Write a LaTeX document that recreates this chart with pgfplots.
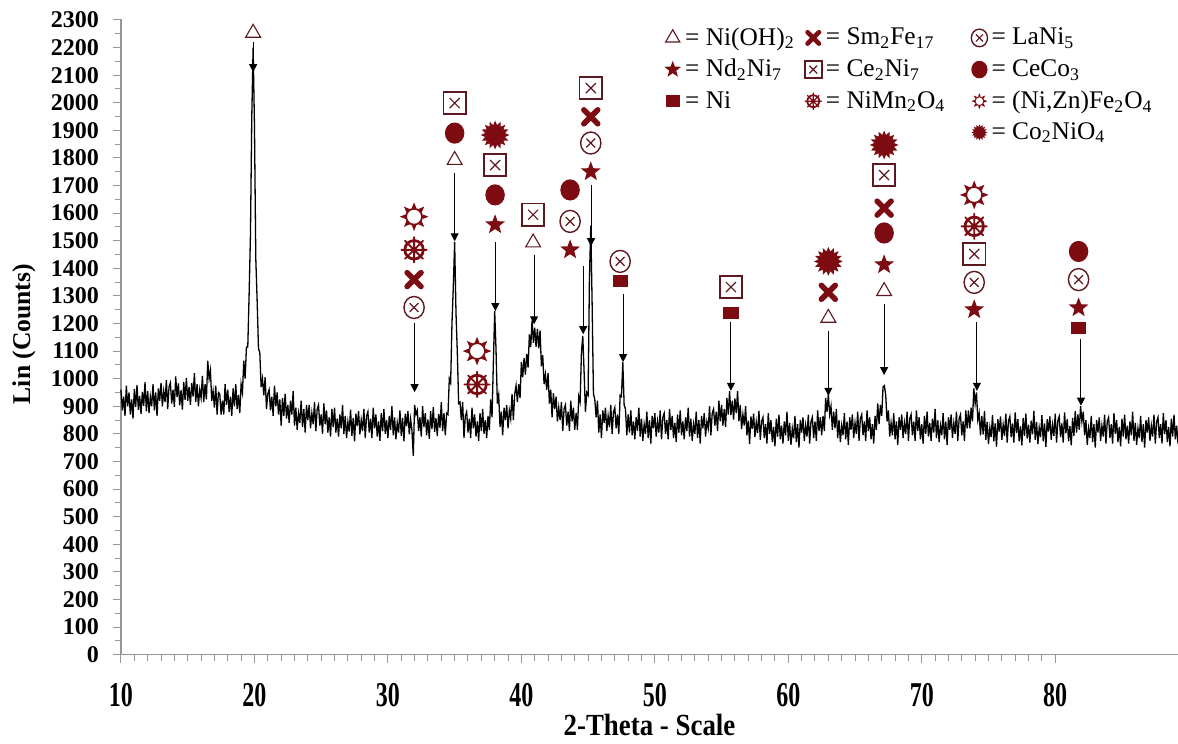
\documentclass[border=0pt]{standalone}
\usepackage{fontspec}
\setmainfont{Liberation Serif}
\usepackage{graphicx}
\usepackage{pgfplots}
\pgfplotsset{compat=1.18}
\usetikzlibrary{arrows.meta}
\definecolor{mred}{RGB}{125,12,18}
\definecolor{mbrown}{RGB}{95,25,30}
\definecolor{axgray}{RGB}{150,150,150}

% ---- custom plot marks ----
\pgfdeclareplotmark{fstar}{%
 \pgfpathmoveto{\pgfpointpolar{90}{\pgfplotmarksize}}%
 \pgfpathlineto{\pgfpointpolar{126}{0.42\pgfplotmarksize}}%
 \pgfpathlineto{\pgfpointpolar{162}{\pgfplotmarksize}}%
 \pgfpathlineto{\pgfpointpolar{198}{0.42\pgfplotmarksize}}%
 \pgfpathlineto{\pgfpointpolar{234}{\pgfplotmarksize}}%
 \pgfpathlineto{\pgfpointpolar{270}{0.42\pgfplotmarksize}}%
 \pgfpathlineto{\pgfpointpolar{306}{\pgfplotmarksize}}%
 \pgfpathlineto{\pgfpointpolar{342}{0.42\pgfplotmarksize}}%
 \pgfpathlineto{\pgfpointpolar{18}{\pgfplotmarksize}}%
 \pgfpathlineto{\pgfpointpolar{54}{0.42\pgfplotmarksize}}%
 \pgfpathclose\pgfusepathqfill}
\pgfdeclareplotmark{frect}{%
 \pgfpathrectangle{\pgfpoint{-\pgfplotmarksize}{-0.8\pgfplotmarksize}}{\pgfpoint{2\pgfplotmarksize}{1.6\pgfplotmarksize}}%
 \pgfusepathqfill}
\pgfdeclareplotmark{fell}{%
 \pgfpathellipse{\pgfpointorigin}{\pgfpoint{0.92\pgfplotmarksize}{0pt}}{\pgfpoint{0pt}{\pgfplotmarksize}}%
 \pgfusepathqfill}
\pgfdeclareplotmark{boldx}{%
 \pgfscope
 \pgfsetlinewidth{0.5\pgfplotmarksize}\pgfsetroundcap
 \pgfpathmoveto{\pgfpoint{-0.62\pgfplotmarksize}{-0.62\pgfplotmarksize}}%
 \pgfpathlineto{\pgfpoint{0.62\pgfplotmarksize}{0.62\pgfplotmarksize}}%
 \pgfpathmoveto{\pgfpoint{-0.62\pgfplotmarksize}{0.62\pgfplotmarksize}}%
 \pgfpathlineto{\pgfpoint{0.62\pgfplotmarksize}{-0.62\pgfplotmarksize}}%
 \pgfusepathqstroke
 \endpgfscope}
\pgfdeclareplotmark{boxx}{%
 \pgfscope
 \pgfsetlinewidth{0.9pt}%
 \pgfpathrectangle{\pgfpoint{-\pgfplotmarksize}{-\pgfplotmarksize}}{\pgfpoint{2\pgfplotmarksize}{2\pgfplotmarksize}}%
 \pgfusepathqfillstroke
 \pgfsetlinewidth{0.6pt}%
 \pgfpathmoveto{\pgfpoint{-0.45\pgfplotmarksize}{-0.45\pgfplotmarksize}}%
 \pgfpathlineto{\pgfpoint{0.45\pgfplotmarksize}{0.45\pgfplotmarksize}}%
 \pgfpathmoveto{\pgfpoint{-0.45\pgfplotmarksize}{0.45\pgfplotmarksize}}%
 \pgfpathlineto{\pgfpoint{0.45\pgfplotmarksize}{-0.45\pgfplotmarksize}}%
 \pgfusepathqstroke
 \endpgfscope}
\pgfdeclareplotmark{circx}{%
 \pgfscope
 \pgfsetlinewidth{0.7pt}%
 \pgfpathellipse{\pgfpointorigin}{\pgfpoint{0.92\pgfplotmarksize}{0pt}}{\pgfpoint{0pt}{\pgfplotmarksize}}%
 \pgfusepathqfillstroke
 \pgfsetlinewidth{0.6pt}%
 \pgfpathmoveto{\pgfpoint{-0.4\pgfplotmarksize}{-0.4\pgfplotmarksize}}%
 \pgfpathlineto{\pgfpoint{0.4\pgfplotmarksize}{0.4\pgfplotmarksize}}%
 \pgfpathmoveto{\pgfpoint{-0.4\pgfplotmarksize}{0.4\pgfplotmarksize}}%
 \pgfpathlineto{\pgfpoint{0.4\pgfplotmarksize}{-0.4\pgfplotmarksize}}%
 \pgfusepathqstroke
 \endpgfscope}
\pgfdeclareplotmark{wheel}{%
 \pgfscope
 \pgfsetlinewidth{0.2\pgfplotmarksize}%
 \pgfpathcircle{\pgfpointorigin}{0.68\pgfplotmarksize}%
 \pgfusepathqstroke
 \pgfpathcircle{\pgfpointorigin}{0.22\pgfplotmarksize}%
 \pgfusepathqfill
 \pgfsetlinewidth{0.14\pgfplotmarksize}\pgfsetroundcap
 \pgfpathmoveto{\pgfpointpolar{0}{0.93\pgfplotmarksize}}\pgfpathlineto{\pgfpointpolar{180}{0.93\pgfplotmarksize}}%
 \pgfpathmoveto{\pgfpointpolar{45}{0.93\pgfplotmarksize}}\pgfpathlineto{\pgfpointpolar{225}{0.93\pgfplotmarksize}}%
 \pgfpathmoveto{\pgfpointpolar{90}{0.93\pgfplotmarksize}}\pgfpathlineto{\pgfpointpolar{270}{0.93\pgfplotmarksize}}%
 \pgfpathmoveto{\pgfpointpolar{135}{0.93\pgfplotmarksize}}\pgfpathlineto{\pgfpointpolar{315}{0.93\pgfplotmarksize}}%
 \pgfusepathqstroke
 \endpgfscope}
\def\sray#1#2#3{\pgfpathmoveto{\pgfpointpolar{#1}{\pgfplotmarksize}}%
 \pgfpathlineto{\pgfpointpolar{#2}{0.6\pgfplotmarksize}}%
 \pgfpathlineto{\pgfpointpolar{#3}{0.6\pgfplotmarksize}}\pgfpathclose}
\pgfdeclareplotmark{sun}{%
 \pgfscope
 \pgfsetlinewidth{0.12\pgfplotmarksize}%
 \pgfpathcircle{\pgfpointorigin}{0.55\pgfplotmarksize}%
 \pgfusepathqstroke
 \sray{0}{344}{16}\sray{45}{29}{61}\sray{90}{74}{106}\sray{135}{119}{151}%
 \sray{180}{164}{196}\sray{225}{209}{241}\sray{270}{254}{286}\sray{315}{299}{331}%
 \pgfusepathqfill
 \endpgfscope}
\def\bpi#1#2{\pgfpathlineto{\pgfpointpolar{#1}{0.7\pgfplotmarksize}}\pgfpathlineto{\pgfpointpolar{#2}{\pgfplotmarksize}}}
\pgfdeclareplotmark{burst}{%
 \pgfpathmoveto{\pgfpointpolar{0}{\pgfplotmarksize}}%
 \bpi{11.25}{22.5}\bpi{33.75}{45}\bpi{56.25}{67.5}\bpi{78.75}{90}%
 \bpi{101.25}{112.5}\bpi{123.75}{135}\bpi{146.25}{157.5}\bpi{168.75}{180}%
 \bpi{191.25}{202.5}\bpi{213.75}{225}\bpi{236.25}{247.5}\bpi{258.75}{270}%
 \bpi{281.25}{292.5}\bpi{303.75}{315}\bpi{326.25}{337.5}%
 \pgfpathlineto{\pgfpointpolar{348.75}{0.7\pgfplotmarksize}}%
 \pgfpathclose\pgfusepathqfill}

\pgfplotsset{
 pNiOH/.style={mark=triangle*, mark size=4.3pt, mark options={draw=mbrown, fill=white, line width=0.55pt}},
 pNdNi/.style={mark=fstar, mark size=5.2pt, mark options={fill=mred, draw=mred}},
 pNi/.style={mark=frect, mark size=3.8pt, mark options={fill=mred, draw=mred}},
 pSmFe/.style={mark=boldx, mark size=5.6pt, mark options={draw=mred, fill=mred}},
 pCeNi/.style={mark=boxx, mark size=5.6pt, mark options={draw=mbrown, fill=white}},
 pNiMn/.style={mark=wheel, mark size=6.8pt, mark options={draw=mred, fill=mred}},
 pLaNi/.style={mark=circx, mark size=5.5pt, mark options={draw=mbrown, fill=white}},
 pCeCo/.style={mark=fell, mark size=5.3pt, mark options={draw=mred, fill=mred}},
 pNiZn/.style={mark=sun, mark size=7.2pt, mark options={draw=mred, fill=mred}},
 pCoNi/.style={mark=burst, mark size=7.2pt, mark options={draw=mred, fill=mred}},
}

\pgfplotstableread[row sep=\\]{
x y v\\
19.9 2219 -108\\
32.0 1203 -252\\
35.0 1747 -249\\
38.05 1494 -249\\
40.95 1450 -253\\
44.63 1407 -246\\
45.22 1703 -223\\
47.62 1306 -246\\
55.7 1204 -248\\
63.0 1173 -235\\
67.18 1269 -256\\
74.13 1204 -248\\
81.93 1143 -241\\
}\arrowtab

\begin{document}
\begin{tikzpicture}
\begin{axis}[
 scale only axis,
 width=528.5pt, height=318pt,
 xmin=10, xmax=89.2, ymin=0, ymax=2305,
 axis lines*=left,
 axis line style={axgray, line width=0.6pt},
 tick style={axgray, line width=0.5pt},
 tick align=outside,
 major tick length=4pt, minor tick length=3pt,
 xtick={10,20,...,80}, minor x tick num=9,
 ytick={0,100,...,2300}, minor y tick num=1,
 tick label style={font=\rmfamily\bfseries\fontsize{12}{14}\selectfont, black},
 /pgf/number format/assume math mode=true,
 /pgf/number format/set thousands separator={},
 xticklabel={\scalebox{1}[1.45]{\pgfmathprintnumber{\tick}}},
 xticklabel style={yshift=-7pt},
 yticklabel style={xshift=-3.5pt},
 xlabel={\scalebox{1.05}[1.2]{2-Theta - Scale}}, ylabel={Lin (Counts)},
 label style={font=\rmfamily\bfseries\fontsize{12.8}{14}\selectfont},
 xlabel style={at={(axis description cs:0.5,-0.110)}, anchor=center},
 ylabel style={at={(axis description cs:-0.0918,0.504)}, anchor=center},
 clip=false,
 legend columns=3,
 legend cell align=left,
 legend image code/.code={\draw[#1] plot coordinates {(4pt,0pt)};},
 legend style={draw=none, fill=none, at={(axis description cs:0.508,0.999)}, anchor=north west,
   font=\rmfamily\fontsize{12.7}{14.5}\selectfont, row sep=1.5pt,
   /tikz/column 2/.style={column sep=3pt},
   /tikz/column 4/.style={column sep=11pt}},
]
\coordinate (A) at (rel axis cs:0,0);
\coordinate (B) at (rel axis cs:1,1);

% diffraction pattern
\addplot[forget plot, black, line width=0.65pt] coordinates {
(10.0,960) (10.1,885) (10.2,935) (10.3,865) (10.4,975) (10.5,900) (10.6,950) (10.7,870) (10.8,925) (10.9,855)
(11.0,962) (11.1,897) (11.2,977) (11.3,887) (11.4,937) (11.5,872) (11.6,952) (11.7,902) (11.8,987) (11.9,882)
(12.0,955) (12.1,875) (12.2,935) (12.3,900) (12.4,980) (12.5,885) (12.6,950) (12.7,865) (12.8,965) (12.9,920)
(13.0,985) (13.1,900) (13.2,955) (13.3,915) (13.4,995) (13.5,890) (13.6,970) (13.7,985) (13.8,910) (13.9,960)
(14.0,898) (14.1,1008) (14.2,933) (14.3,983) (14.4,903) (14.5,958) (14.6,888) (14.7,988) (14.8,923) (14.9,1003)
(15.0,920) (15.1,970) (15.2,905) (15.3,985) (15.4,935) (15.5,1020) (15.6,915) (15.7,980) (15.8,900) (15.9,960)
(16.0,930) (16.1,1010) (16.2,915) (16.3,980) (16.4,925) (16.5,1065) (16.6,1000) (16.7,1030) (16.8,920) (16.9,955)
(17.0,895) (17.1,975) (17.2,870) (17.3,950) (17.4,945) (17.5,870) (17.6,920) (17.7,870) (17.8,980) (17.9,905)
(18.0,960) (18.1,880) (18.2,935) (18.3,865) (18.4,965) (18.5,900) (18.6,980) (18.7,890) (18.8,940) (18.9,875)
(19.0,980) (19.1,950) (19.2,1065) (19.3,1000) (19.4,1115) (19.5,1115) (19.6,1305) (19.7,1520) (19.8,1950) (19.9,2200)
(20.0,1920) (20.1,1435) (20.2,1285) (20.3,1110) (20.4,1095) (20.5,970) (20.6,1000) (20.7,940) (20.8,1005) (20.9,890)
(21.0,945) (21.1,960) (21.2,885) (21.3,935) (21.4,865) (21.5,975) (21.6,900) (21.7,950) (21.8,870) (21.9,925)
(22.0,830) (22.1,930) (22.2,865) (22.3,945) (22.4,855) (22.5,905) (22.6,840) (22.7,920) (22.8,870) (22.9,955)
(23.0,830) (23.1,895) (23.2,815) (23.3,875) (23.4,840) (23.5,920) (23.6,825) (23.7,890) (23.8,805) (23.9,905)
(24.0,850) (24.1,905) (24.2,820) (24.3,875) (24.4,835) (24.5,915) (24.6,810) (24.7,890) (24.8,905) (24.9,830)
(25.0,870) (25.1,800) (25.2,910) (25.3,835) (25.4,885) (25.5,805) (25.6,860) (25.7,790) (25.8,890) (25.9,825)
(26.0,895) (26.1,805) (26.2,855) (26.3,790) (26.4,870) (26.5,820) (26.6,905) (26.7,800) (26.8,865) (26.9,785)
(27.0,843) (27.1,808) (27.2,888) (27.3,793) (27.4,858) (27.5,773) (27.6,873) (27.7,828) (27.8,883) (27.9,798)
(28.0,850) (28.1,810) (28.2,890) (28.3,785) (28.4,865) (28.5,880) (28.6,805) (28.7,855) (28.8,785) (28.9,895)
(29.0,820) (29.1,870) (29.2,790) (29.3,845) (29.4,775) (29.5,875) (29.6,810) (29.7,890) (29.8,800) (29.9,850)
(30.0,785) (30.1,865) (30.2,815) (30.3,900) (30.4,795) (30.5,860) (30.6,780) (30.7,840) (30.8,805) (30.9,885)
(31.0,793) (31.1,858) (31.2,773) (31.3,873) (31.4,828) (31.5,883) (31.6,798) (31.7,853) (31.8,813) (31.9,720)
(32.0,905) (32.1,870) (32.2,885) (32.3,810) (32.4,860) (32.5,790) (32.6,900) (32.7,825) (32.8,875) (32.9,795)
(33.0,852) (33.1,782) (33.2,882) (33.3,817) (33.4,897) (33.5,807) (33.6,857) (33.7,792) (33.8,872) (33.9,822)
(34.0,915) (34.1,810) (34.2,875) (34.3,795) (34.4,875) (34.5,870) (34.6,1000) (34.7,985) (34.8,1200) (34.9,1335)
(35.0,1495) (35.1,1240) (35.2,1095) (35.3,910) (35.4,915) (35.5,850) (35.6,915) (35.7,785) (35.8,865) (35.9,880)
(36.0,805) (36.1,855) (36.2,785) (36.3,895) (36.4,820) (36.5,870) (36.6,790) (36.7,845) (36.8,775) (36.9,875)
(37.0,810) (37.1,890) (37.2,800) (37.3,850) (37.4,785) (37.5,865) (37.6,815) (37.7,925) (37.8,860) (37.9,1055)
(38.0,1245) (38.1,1105) (38.2,910) (38.3,940) (38.4,825) (38.5,880) (38.6,795) (38.7,895) (38.8,850) (38.9,905)
(39.0,820) (39.1,885) (39.2,855) (39.3,945) (39.4,850) (39.5,945) (39.6,975) (39.7,915) (39.8,980) (39.9,930)
(40.0,1060) (40.1,1005) (40.2,1075) (40.3,1015) (40.4,1090) (40.5,1040) (40.6,1160) (40.7,1115) (40.8,1210) (40.9,1130)
(41.0,1185) (41.1,1115) (41.2,1180) (41.3,1110) (41.4,1175) (41.5,1045) (41.6,1085) (41.7,980) (41.8,1015) (41.9,960)
(42.0,1020) (42.1,910) (42.2,960) (42.3,860) (42.4,947) (42.5,890) (42.6,935) (42.7,845) (42.8,895) (42.9,850)
(43.0,915) (43.1,810) (43.2,890) (43.3,905) (43.4,830) (43.5,880) (43.6,810) (43.7,920) (43.8,845) (43.9,895)
(44.0,815) (44.1,875) (44.2,815) (44.3,935) (44.4,915) (44.5,1095) (44.6,1155) (44.7,1025) (44.8,880) (44.9,950)
(45.0,940) (45.1,1365) (45.2,1555) (45.3,1275) (45.4,945) (45.5,925) (45.6,860) (45.7,920) (45.8,805) (45.9,870)
(46.0,785) (46.1,885) (46.2,840) (46.3,895) (46.4,810) (46.5,865) (46.6,825) (46.7,905) (46.8,800) (46.9,880)
(47.0,895) (47.1,820) (47.2,870) (47.3,800) (47.4,940) (47.5,935) (47.6,1060) (47.7,905) (47.8,890) (47.9,795)
(48.0,870) (48.1,805) (48.2,885) (48.3,795) (48.4,845) (48.5,780) (48.6,860) (48.7,810) (48.8,895) (48.9,790)
(49.0,855) (49.1,775) (49.2,835) (49.3,800) (49.4,880) (49.5,785) (49.6,850) (49.7,765) (49.8,865) (49.9,820)
(50.0,875) (50.1,790) (50.2,845) (50.3,805) (50.4,885) (50.5,780) (50.6,860) (50.7,875) (50.8,800) (50.9,850)
(51.0,780) (51.1,890) (51.2,815) (51.3,865) (51.4,785) (51.5,840) (51.6,770) (51.7,870) (51.8,805) (51.9,885)
(52.0,795) (52.1,845) (52.2,780) (52.3,860) (52.4,810) (52.5,895) (52.6,790) (52.7,855) (52.8,775) (52.9,835)
(53.0,800) (53.1,880) (53.2,785) (53.3,850) (53.4,765) (53.5,865) (53.6,820) (53.7,875) (53.8,790) (53.9,845)
(54.0,820) (54.1,900) (54.2,795) (54.3,875) (54.4,890) (54.5,830) (54.6,880) (54.7,810) (54.8,920) (54.9,845)
(55.0,905) (55.1,830) (55.2,890) (55.3,825) (55.4,930) (55.5,870) (55.6,955) (55.7,868) (55.8,920) (55.9,852)
(56.0,928) (56.1,875) (56.2,955) (56.3,845) (56.4,905) (56.5,817) (56.6,870) (56.7,830) (56.8,900) (56.9,795)
(57.0,848) (57.1,763) (57.2,863) (57.3,818) (57.4,873) (57.5,788) (57.6,843) (57.7,803) (57.8,883) (57.9,778)
(58.0,845) (58.1,860) (58.2,785) (58.3,835) (58.4,765) (58.5,875) (58.6,800) (58.7,850) (58.8,770) (58.9,825)
(59.0,755) (59.1,855) (59.2,790) (59.3,870) (59.4,780) (59.5,830) (59.6,765) (59.7,845) (59.8,795) (59.9,880)
(60.0,775) (60.1,840) (60.2,760) (60.3,820) (60.4,785) (60.5,865) (60.6,770) (60.7,835) (60.8,750) (60.9,850)
(61.0,805) (61.1,860) (61.2,775) (61.3,830) (61.4,790) (61.5,870) (61.6,765) (61.7,845) (61.8,860) (61.9,785)
(62.0,845) (62.1,775) (62.2,885) (62.3,810) (62.4,860) (62.5,795) (62.6,865) (62.7,810) (62.8,930) (62.9,880)
(63.0,945) (63.1,870) (63.2,900) (63.3,815) (63.4,880) (63.5,820) (63.6,890) (63.7,785) (63.8,850) (63.9,770)
(64.0,830) (64.1,795) (64.2,875) (64.3,780) (64.4,845) (64.5,760) (64.6,860) (64.7,815) (64.8,870) (64.9,785)
(65.0,840) (65.1,800) (65.2,880) (65.3,775) (65.4,855) (65.5,870) (65.6,795) (65.7,845) (65.8,775) (65.9,885)
(66.0,810) (66.1,860) (66.2,780) (66.3,835) (66.4,765) (66.5,865) (66.6,815) (66.7,910) (66.8,835) (66.9,905)
(67.0,865) (67.1,970) (67.2,975) (67.3,940) (67.4,845) (67.5,885) (67.6,790) (67.7,840) (67.8,795) (67.9,875)
(68.0,780) (68.1,845) (68.2,760) (68.3,860) (68.4,815) (68.5,870) (68.6,785) (68.7,840) (68.8,800) (68.9,880)
(69.0,775) (69.1,855) (69.2,870) (69.3,795) (69.4,845) (69.5,775) (69.6,885) (69.7,810) (69.8,860) (69.9,780)
(70.0,835) (70.1,765) (70.2,865) (70.3,800) (70.4,880) (70.5,790) (70.6,840) (70.7,775) (70.8,855) (70.9,805)
(71.0,890) (71.1,785) (71.2,850) (71.3,770) (71.4,830) (71.5,795) (71.6,875) (71.7,780) (71.8,845) (71.9,760)
(72.0,860) (72.1,815) (72.2,870) (72.3,785) (72.4,840) (72.5,800) (72.6,880) (72.7,775) (72.8,855) (72.9,870)
(73.0,795) (73.1,845) (73.2,775) (73.3,885) (73.4,820) (73.5,885) (73.6,820) (73.7,895) (73.8,845) (73.9,965)
(74.0,910) (74.1,950) (74.2,850) (74.3,875) (74.4,795) (74.5,865) (74.6,798) (74.7,883) (74.8,778) (74.9,843)
(75.0,763) (75.1,823) (75.2,788) (75.3,868) (75.4,773) (75.5,838) (75.6,753) (75.7,853) (75.8,808) (75.9,863)
(76.0,778) (76.1,833) (76.2,793) (76.3,873) (76.4,768) (76.5,848) (76.6,863) (76.7,788) (76.8,838) (76.9,768)
(77.0,878) (77.1,803) (77.2,853) (77.3,773) (77.4,828) (77.5,758) (77.6,858) (77.7,793) (77.8,873) (77.9,783)
(78.0,833) (78.1,768) (78.2,848) (78.3,798) (78.4,883) (78.5,778) (78.6,843) (78.7,763) (78.8,823) (78.9,788)
(79.0,868) (79.1,773) (79.2,838) (79.3,753) (79.4,853) (79.5,808) (79.6,863) (79.7,778) (79.8,833) (79.9,793)
(80.0,873) (80.1,768) (80.2,848) (80.3,863) (80.4,788) (80.5,838) (80.6,768) (80.7,878) (80.8,803) (80.9,853)
(81.0,773) (81.1,828) (81.2,758) (81.3,858) (81.4,793) (81.5,883) (81.6,805) (81.7,870) (81.8,815) (81.9,900)
(82.0,845) (82.1,880) (82.2,795) (82.3,850) (82.4,760) (82.5,820) (82.6,785) (82.7,865) (82.8,770) (82.9,835)
(83.0,750) (83.1,850) (83.2,805) (83.3,860) (83.4,775) (83.5,830) (83.6,790) (83.7,870) (83.8,765) (83.9,845)
(84.0,860) (84.1,785) (84.2,835) (84.3,765) (84.4,875) (84.5,800) (84.6,850) (84.7,770) (84.8,825) (84.9,755)
(85.0,855) (85.1,790) (85.2,870) (85.3,780) (85.4,830) (85.5,765) (85.6,845) (85.7,795) (85.8,880) (85.9,775)
(86.0,840) (86.1,760) (86.2,820) (86.3,785) (86.4,865) (86.5,770) (86.6,835) (86.7,750) (86.8,850) (86.9,805)
(87.0,860) (87.1,775) (87.2,830) (87.3,790) (87.4,870) (87.5,765) (87.6,845) (87.7,860) (87.8,785) (87.9,835)
(88.0,765) (88.1,875) (88.2,800) (88.3,850) (88.4,770) (88.5,825) (88.6,755) (88.7,855) (88.8,790) (88.9,870)
(89.0,780) (89.1,830) (89.2,765)
};

% arrows to peaks
\addplot[forget plot, black, line width=0.5pt, -{Triangle[length=4pt,width=4pt]},
  quiver={u=0, v=\thisrow{v}}] table[x=x, y=y] {\arrowtab};

% phase markers
\addplot[forget plot, only marks, pNiOH] coordinates {(19.9,2253) (35.0,1792) (40.88,1493) (63.0,1220) (67.18,1317)};
\addplot[forget plot, only marks, pNdNi] coordinates {(38.03,1558) (43.65,1467) (45.2,1750) (67.18,1413) (73.93,1250) (81.75,1257)};
\addplot[forget plot, only marks, pNi] coordinates {(47.4,1353) (55.7,1238) (81.75,1184)};
\addplot[forget plot, only marks, pSmFe] coordinates {(31.96,1359) (45.2,1949) (63.0,1313) (67.18,1618)};
\addplot[forget plot, only marks, pCeNi] coordinates {(35.0,1999) (38.03,1774) (40.88,1594) (45.2,2053) (55.7,1332) (67.18,1738) (73.93,1452)};
\addplot[forget plot, only marks, pNiMn] coordinates {(31.96,1467) (36.68,979) (73.93,1552)};
\addplot[forget plot, only marks, pLaNi] coordinates {(31.96,1258) (43.65,1570) (45.2,1854) (47.4,1425) (73.93,1349) (81.75,1359)};
\addplot[forget plot, only marks, pCeCo] coordinates {(35.0,1890) (38.03,1666) (43.65,1684) (67.18,1528) (81.75,1461)};
\addplot[forget plot, only marks, pNiZn] coordinates {(31.96,1587) (36.68,1100) (73.93,1666)};
\addplot[forget plot, only marks, pCoNi] coordinates {(38.03,1883) (63.0,1425) (67.18,1847)};

% legend
\addlegendimage{pNiOH, mark size=4.1pt}\addlegendentry{= Ni(OH)\textsubscript{2}}
\addlegendimage{pSmFe, mark size=4.6pt}\addlegendentry{= Sm\textsubscript{2}Fe\textsubscript{17}}
\addlegendimage{pLaNi, mark size=4.4pt}\addlegendentry{= LaNi\textsubscript{5}}
\addlegendimage{pNdNi, mark size=4.4pt}\addlegendentry{= Nd\textsubscript{2}Ni\textsubscript{7}}
\addlegendimage{pCeNi, mark size=4.3pt}\addlegendentry{= Ce\textsubscript{2}Ni\textsubscript{7}}
\addlegendimage{pCeCo, mark size=4.4pt}\addlegendentry{= CeCo\textsubscript{3}}
\addlegendimage{pNi, mark size=3.6pt}\addlegendentry{= Ni}
\addlegendimage{pNiMn, mark size=4.4pt}\addlegendentry{= NiMn\textsubscript{2}O\textsubscript{4}}
\addlegendimage{pNiZn, mark size=4.0pt}\addlegendentry{= (Ni,Zn)Fe\textsubscript{2}O\textsubscript{4}}
\addlegendimage{empty legend}\addlegendentry{}
\addlegendimage{empty legend}\addlegendentry{}
\addlegendimage{pCoNi, mark size=4.0pt}\addlegendentry{= Co\textsubscript{2}NiO\textsubscript{4}}
\end{axis}
\pgfresetboundingbox
\path ([xshift=-60.5pt,yshift=-44.5pt]A) rectangle ([yshift=9.3pt]B);
\end{tikzpicture}
\end{document}
